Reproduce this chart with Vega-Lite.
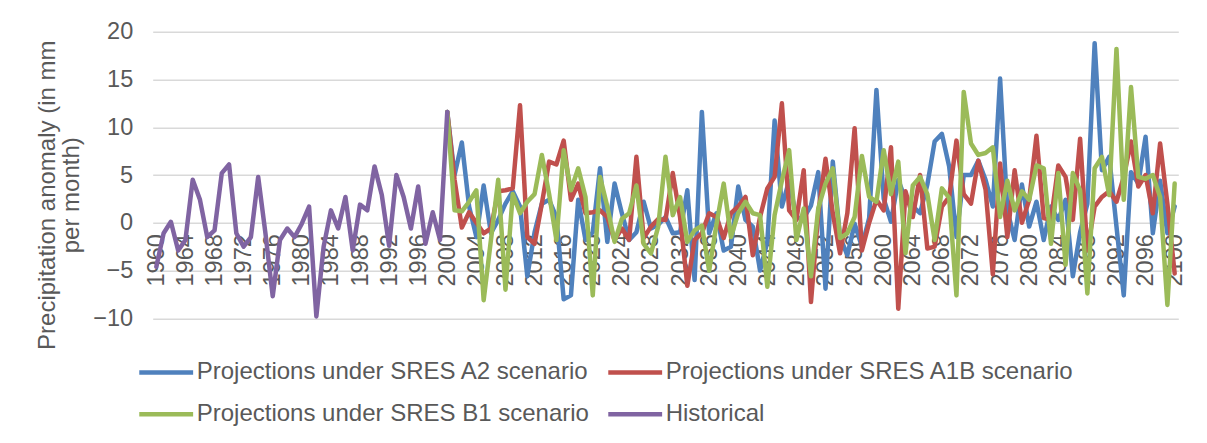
{
  "$schema": "https://vega.github.io/schema/vega-lite/v6.json",
  "width": 1025.6,
  "height": 286.6,
  "autosize": "none",
  "padding": {"left": 152.7, "top": 31.7, "right": 28.7, "bottom": 124.7},
  "background": "white",
  "config": {
    "font": "Liberation Sans",
    "view": {"stroke": null},
    "axis": {"labelColor": "#595959", "labelFontSize": 23.5, "domain": false, "ticks": false, "gridColor": "#D9D9D9", "gridWidth": 1.5, "titleColor": "#595959", "titleFontWeight": "normal", "titleFontSize": 24}
  },
  "data": {"values": [
    {"y":1960,"h":-4.6},{"y":1961,"h":-1.1},{"y":1962,"h":0.1},{"y":1963,"h":-2.9},{"y":1964,"h":-1.8},
    {"y":1965,"h":4.5},{"y":1966,"h":2.4},{"y":1967,"h":-1.5},{"y":1968,"h":-0.8},{"y":1969,"h":5.2},
    {"y":1970,"h":6.1},{"y":1971,"h":-1.1},{"y":1972,"h":-2.5},{"y":1973,"h":-1.5},{"y":1974,"h":4.8},
    {"y":1975,"h":-1.1},{"y":1976,"h":-7.7},{"y":1977,"h":-1.8},{"y":1978,"h":-0.6},{"y":1979,"h":-1.5},
    {"y":1980,"h":-0.1},{"y":1981,"h":1.7},{"y":1982,"h":-9.8},{"y":1983,"h":-2.5},{"y":1984,"h":1.3},
    {"y":1985,"h":-0.6},{"y":1986,"h":2.7},{"y":1987,"h":-2.9},{"y":1988,"h":1.9},{"y":1989,"h":1.3},
    {"y":1990,"h":5.9},{"y":1991,"h":2.9},{"y":1992,"h":-2.4},{"y":1993,"h":5.0},{"y":1994,"h":2.7},
    {"y":1995,"h":-0.6},{"y":1996,"h":3.8},{"y":1997,"h":-2.2},{"y":1998,"h":1.1},{"y":1999,"h":-1.8},
    {"y":2000,"h":11.6,"a2":11.6,"a1b":11.6,"b1":11.6},
    {"y":2001,"a2":5.0,"a1b":4.5,"b1":1.3},
    {"y":2002,"a2":8.4,"a1b":-0.5,"b1":1.2},
    {"y":2003,"a2":1.7,"a1b":1.1,"b1":2.2},
    {"y":2004,"a2":-1.5,"a1b":0.0,"b1":3.4},
    {"y":2005,"a2":3.9,"a1b":-1.1,"b1":-8.1},
    {"y":2006,"a2":-1.1,"a1b":-0.6,"b1":-1.8},
    {"y":2007,"a2":0.3,"a1b":3.3,"b1":4.5},
    {"y":2008,"a2":2.0,"a1b":3.4,"b1":-7.0},
    {"y":2009,"a2":3.3,"a1b":3.6,"b1":3.0},
    {"y":2010,"a2":1.7,"a1b":12.3,"b1":1.0},
    {"y":2011,"a2":-5.6,"a1b":-1.5,"b1":2.2},
    {"y":2012,"a2":-1.0,"a1b":-2.2,"b1":3.0},
    {"y":2013,"a2":2.0,"a1b":2.0,"b1":7.1},
    {"y":2014,"a2":2.4,"a1b":6.4,"b1":3.0},
    {"y":2015,"a2":0.6,"a1b":6.1,"b1":-1.8},
    {"y":2016,"a2":-8.0,"a1b":8.6,"b1":7.6},
    {"y":2017,"a2":-7.6,"a1b":2.4,"b1":3.4},
    {"y":2018,"a2":2.4,"a1b":4.1,"b1":5.7},
    {"y":2019,"a2":-1.8,"a1b":1.0,"b1":2.7},
    {"y":2020,"a2":-1.0,"a1b":1.1,"b1":-7.6},
    {"y":2021,"a2":5.7,"a1b":1.3,"b1":4.8},
    {"y":2022,"a2":-2.0,"a1b":0.6,"b1":1.7},
    {"y":2023,"a2":4.1,"a1b":-1.8,"b1":-2.0},
    {"y":2024,"a2":1.0,"a1b":-0.6,"b1":0.4},
    {"y":2025,"a2":-1.8,"a1b":-1.8,"b1":1.0},
    {"y":2026,"a2":-1.0,"a1b":6.9,"b1":3.9},
    {"y":2027,"a2":2.2,"a1b":-1.6,"b1":-2.2},
    {"y":2028,"a2":-0.6,"a1b":-0.4,"b1":-3.2},
    {"y":2029,"a2":-0.2,"a1b":0.4,"b1":-0.4},
    {"y":2030,"a2":0.6,"a1b":0.3,"b1":6.9},
    {"y":2031,"a2":-1.1,"a1b":5.2,"b1":0.8},
    {"y":2032,"a2":-1.0,"a1b":0.6,"b1":2.7},
    {"y":2033,"a2":3.4,"a1b":-6.6,"b1":-2.0},
    {"y":2034,"a2":-6.0,"a1b":-1.8,"b1":-0.8},
    {"y":2035,"a2":11.6,"a1b":-1.1,"b1":-0.3},
    {"y":2036,"a2":-1.1,"a1b":1.0,"b1":-5.0},
    {"y":2037,"a2":1.0,"a1b":0.6,"b1":-0.2},
    {"y":2038,"a2":-2.9,"a1b":-1.6,"b1":4.1},
    {"y":2039,"a2":-2.5,"a1b":1.0,"b1":-1.5},
    {"y":2040,"a2":3.8,"a1b":1.7,"b1":1.0},
    {"y":2041,"a2":0.3,"a1b":2.7,"b1":2.2},
    {"y":2042,"a2":-0.4,"a1b":-3.4,"b1":1.0},
    {"y":2043,"a2":-5.0,"a1b":0.6,"b1":0.8},
    {"y":2044,"a2":-2.0,"a1b":3.6,"b1":-6.7},
    {"y":2045,"a2":10.7,"a1b":4.8,"b1":0.8},
    {"y":2046,"a2":1.7,"a1b":12.5,"b1":4.4},
    {"y":2047,"a2":4.4,"a1b":1.3,"b1":7.6},
    {"y":2048,"a2":0.5,"a1b":0.3,"b1":-1.8},
    {"y":2049,"a2":0.5,"a1b":5.5,"b1":1.5},
    {"y":2050,"a2":1.8,"a1b":-8.3,"b1":-5.6},
    {"y":2051,"a2":5.3,"a1b":1.0,"b1":1.5},
    {"y":2052,"a2":-6.9,"a1b":6.7,"b1":4.1},
    {"y":2053,"a2":6.4,"a1b":1.0,"b1":5.7},
    {"y":2054,"a2":-1.5,"a1b":-3.2,"b1":-1.6},
    {"y":2055,"a2":-3.4,"a1b":1.0,"b1":-1.1},
    {"y":2056,"a2":-0.1,"a1b":9.9,"b1":0.6},
    {"y":2057,"a2":-2.5,"a1b":-2.9,"b1":7.0},
    {"y":2058,"a2":0.5,"a1b":0.0,"b1":2.7},
    {"y":2059,"a2":13.9,"a1b":2.4,"b1":2.2},
    {"y":2060,"a2":2.5,"a1b":1.3,"b1":7.6},
    {"y":2061,"a2":0.1,"a1b":7.9,"b1":3.0},
    {"y":2062,"a2":4.5,"a1b":-9.0,"b1":6.4},
    {"y":2063,"a2":2.4,"a1b":3.3,"b1":-3.2},
    {"y":2064,"a2":1.7,"a1b":0.6,"b1":3.9},
    {"y":2065,"a2":1.0,"a1b":5.0,"b1":4.8},
    {"y":2066,"a2":4.0,"a1b":-2.7,"b1":3.0},
    {"y":2067,"a2":8.5,"a1b":-2.5,"b1":-1.8},
    {"y":2068,"a2":9.3,"a1b":1.7,"b1":3.6},
    {"y":2069,"a2":5.9,"a1b":2.7,"b1":2.6},
    {"y":2070,"a2":-1.5,"a1b":8.6,"b1":-7.6},
    {"y":2071,"a2":5.0,"a1b":3.0,"b1":13.7},
    {"y":2072,"a2":5.0,"a1b":2.0,"b1":8.3},
    {"y":2073,"a2":6.5,"a1b":6.5,"b1":7.1},
    {"y":2074,"a2":4.5,"a1b":3.5,"b1":7.3},
    {"y":2075,"a2":1.7,"a1b":-5.4,"b1":7.9},
    {"y":2076,"a2":15.1,"a1b":6.2,"b1":0.6},
    {"y":2077,"a2":1.3,"a1b":-1.5,"b1":4.4},
    {"y":2078,"a2":-1.8,"a1b":5.5,"b1":1.3},
    {"y":2079,"a2":4.0,"a1b":0.0,"b1":3.3},
    {"y":2080,"a2":-0.4,"a1b":2.4,"b1":2.4},
    {"y":2081,"a2":2.2,"a1b":9.1,"b1":6.0},
    {"y":2082,"a2":-1.8,"a1b":0.5,"b1":5.7},
    {"y":2083,"a2":1.7,"a1b":0.3,"b1":-2.2},
    {"y":2084,"a2":0.3,"a1b":6.0,"b1":5.2},
    {"y":2085,"a2":2.4,"a1b":4.8,"b1":-4.4},
    {"y":2086,"a2":-5.6,"a1b":0.3,"b1":5.2},
    {"y":2087,"a2":-1.0,"a1b":8.8,"b1":3.4},
    {"y":2088,"a2":2.0,"a1b":-2.9,"b1":-7.4},
    {"y":2089,"a2":18.8,"a1b":1.7,"b1":5.7},
    {"y":2090,"a2":5.5,"a1b":2.7,"b1":6.9},
    {"y":2091,"a2":6.9,"a1b":3.3,"b1":2.9},
    {"y":2092,"a2":-0.4,"a1b":2.2,"b1":18.2},
    {"y":2093,"a2":-7.6,"a1b":4.8,"b1":2.4},
    {"y":2094,"a2":5.3,"a1b":8.5,"b1":14.2},
    {"y":2095,"a2":4.1,"a1b":3.8,"b1":4.8},
    {"y":2096,"a2":9.0,"a1b":5.0,"b1":4.6},
    {"y":2097,"a2":-1.1,"a1b":1.0,"b1":5.0},
    {"y":2098,"a2":4.4,"a1b":8.3,"b1":2.7},
    {"y":2099,"a2":-1.1,"a1b":2.0,"b1":-8.6},
    {"y":2100,"a2":1.7,"a1b":-5.3,"b1":4.1}
  ]},
  "transform": [{"fold": ["a2", "a1b", "b1", "h"], "as": ["series", "value"]}],
  "encoding": {
    "x": {"field": "y", "type": "quantitative",
      "scale": {"domain": [1959.5, 2100.5], "nice": false, "zero": false},
      "axis": {"values": [1960,1964,1968,1972,1976,1980,1984,1988,1992,1996,2000,2004,2008,2012,2016,2020,2024,2028,2032,2036,2040,2044,2048,2052,2056,2060,2064,2068,2072,2076,2080,2084,2088,2092,2096,2100],
        "format": "d", "labelAngle": -90, "offset": -95.6, "grid": false, "labelPadding": 11, "title": null, "labelOverlap": false, "labelFlush": false, "labelBound": false}},
    "y": {"field": "value", "type": "quantitative",
      "scale": {"domain": [-10, 20], "nice": false, "zero": false},
      "axis": {"values": [-10,-5,0,5,10,15,20], "labelPadding": 20,
        "title": ["Precipitation anomaly (in mm", "per month)"],
        "titleAngle": -90, "titleAlign": "center", "titleBaseline": "top", "titleLineHeight": 24,
        "titleX": -117, "titleY": 163}},
    "color": {"field": "series", "type": "nominal",
      "scale": {"domain": ["a2", "a1b", "b1", "h"], "range": ["#4F81BD", "#C0504D", "#9BBB59", "#8064A2"]},
      "legend": {"orient": "none", "legendX": -16, "legendY": 311, "direction": "horizontal", "columns": 2,
        "title": null, "symbolType": "stroke", "symbolSize": 2900, "symbolStrokeWidth": 4.5,
        "labelFontSize": 24, "labelColor": "#595959", "labelLimit": 1000, "labelOffset": 1,
        "columnPadding": 9, "rowPadding": -12, "padding": 0,
        "labelExpr": "datum.value == 'a2' ? 'Projections under SRES A2 scenario' : datum.value == 'a1b' ? 'Projections under SRES A1B scenario' : datum.value == 'b1' ? 'Projections under SRES B1 scenario' : 'Historical'"}}
  },
  "layer": [
    {"transform": [{"filter": "datum.series == 'a2'"}], "mark": {"type": "line", "strokeWidth": 4.5, "strokeJoin": "round", "strokeCap": "round"}},
    {"transform": [{"filter": "datum.series == 'a1b'"}], "mark": {"type": "line", "strokeWidth": 4.5, "strokeJoin": "round", "strokeCap": "round"}},
    {"transform": [{"filter": "datum.series == 'b1'"}], "mark": {"type": "line", "strokeWidth": 4.5, "strokeJoin": "round", "strokeCap": "round"}},
    {"transform": [{"filter": "datum.series == 'h'"}], "mark": {"type": "line", "strokeWidth": 4.5, "strokeJoin": "round", "strokeCap": "round"}}
  ]
}
